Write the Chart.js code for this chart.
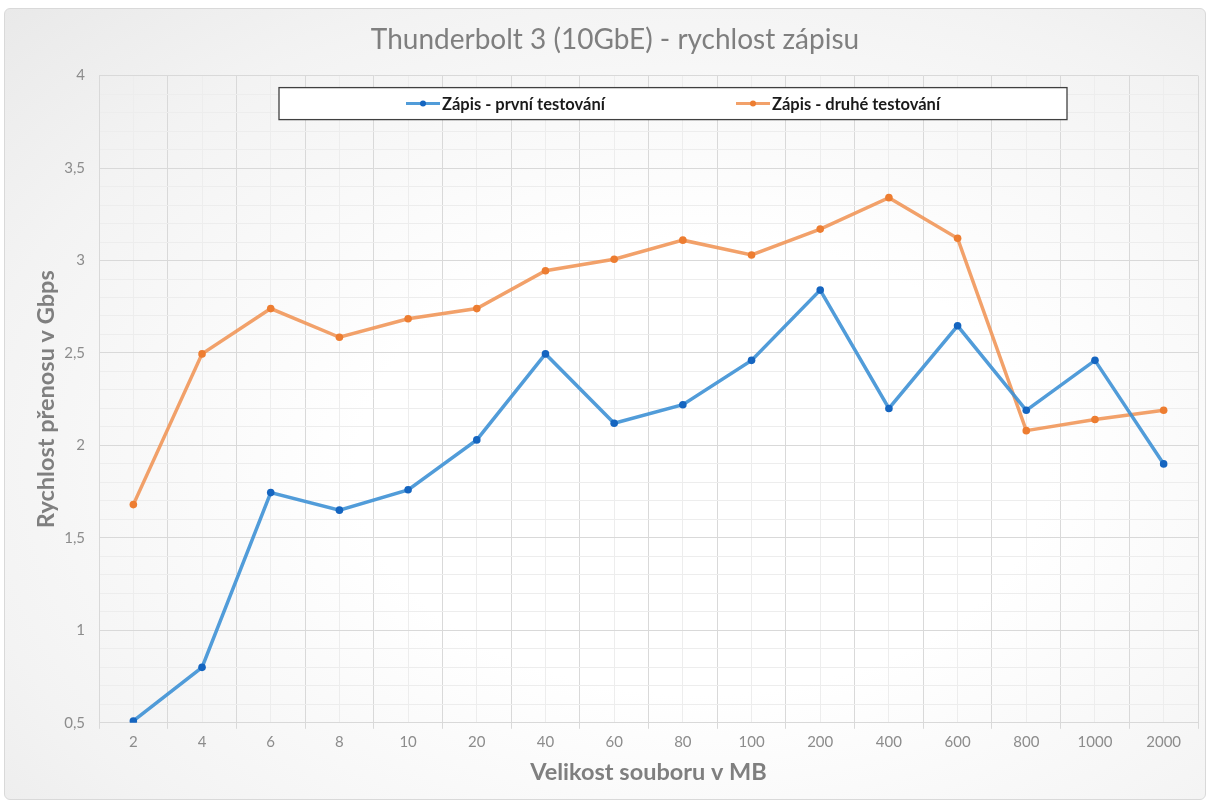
<!DOCTYPE html>
<html lang="cs">
<head>
<meta charset="utf-8">
<title>Thunderbolt 3 (10GbE) - rychlost zápisu</title>
<script src="https://cdn.jsdelivr.net/npm/chart.js@4.4.1/dist/chart.umd.min.js"></script>
<style>
    html, body { margin: 0; padding: 0; background: #ffffff; }
    #wrap { position: relative; width: 1212px; height: 803px; }
    #card {
        position: absolute; left: 4px; top: 8px; width: 1202px; height: 792px;
        border: 1px solid #d9d9d9; border-radius: 6px; box-sizing: border-box;
        background: radial-gradient(ellipse at 58% 58%, #ffffff 35%, #f3f3f3 75%, #e9e9e9 100%);
    }
    canvas { position: absolute; left: 0; top: 0; }
</style>
</head>
<body>
<div id="wrap">
    <div id="card"></div>
    <canvas id="writeChart" width="1212" height="803"></canvas>
</div>
<script>
// velikosti souborů (MB)
const fileSizes = ['2', '4', '6', '8', '10', '20', '40', '60', '80', '100', '200', '400', '600', '800', '1000', '2000'];
// rychlost zápisu v Gbps
const firstRun = [0.51, 0.80, 1.745, 1.65, 1.76, 2.03, 2.495, 2.12, 2.22, 2.46, 2.84, 2.20, 2.647, 2.19, 2.46, 1.90];
const secondRun = [1.68, 2.495, 2.74, 2.585, 2.685, 2.74, 2.945, 3.007, 3.11, 3.03, 3.17, 3.34, 3.12, 2.08, 2.14, 2.19];
const seriesNames = ['Zápis - první testování', 'Zápis - druhé testování'];
const yMin = 0.5, yMax = 4, yStep = 0.5, yMinorStep = 0.1;

const fontFamily = 'Lato, "Open Sans", sans-serif';
const majorGrid = '#d9d9d9';
const minorGrid = '#ededed';

// legenda v rámečku uvnitř plochy grafu (jako v Excelu)
const boxedLegend = {
    id: 'boxedLegend',
    afterDraw(chart) {
        const ctx = chart.ctx;
        const area = chart.chartArea;
        const x = area.left + 180, y = area.top + 12, w = 788, h = 32;
        ctx.save();
        ctx.fillStyle = '#ffffff';
        ctx.fillRect(x, y, w, h);
        ctx.strokeStyle = '#404040';
        ctx.lineWidth = 1.3;
        ctx.strokeRect(x, y, w, h);
        ctx.font = 'bold 16.5px ' + fontFamily;
        ctx.textBaseline = 'middle';
        const itemX = [x + 127, x + 457];
        chart.data.datasets.forEach((ds, i) => {
            const lx = itemX[i], ly = y + h / 2;
            ctx.strokeStyle = ds.borderColor;
            ctx.lineWidth = 3;
            ctx.beginPath();
            ctx.moveTo(lx, ly);
            ctx.lineTo(lx + 34, ly);
            ctx.stroke();
            ctx.fillStyle = ds.pointBackgroundColor;
            ctx.beginPath();
            ctx.arc(lx + 17, ly, 3, 0, Math.PI * 2);
            ctx.fill();
            ctx.fillStyle = '#1a1a1a';
            ctx.fillText(ds.label, lx + 36, ly + 1);
        });
        ctx.restore();
    }
};

const isMajor = v => Math.abs(v / yStep - Math.round(v / yStep)) < 1e-6;

new Chart(document.getElementById('writeChart').getContext('2d'), {
    type: 'line',
    data: {
        labels: fileSizes,
        datasets: [{
            label: seriesNames[0],
            data: firstRun,
            borderColor: 'rgba(62, 145, 213, 0.9)',
            backgroundColor: 'rgba(62, 145, 213, 0.9)',
            pointBackgroundColor: '#1565c0',
            pointBorderWidth: 0,
            borderWidth: 3.5,
            pointRadius: 3.8,
            tension: 0,
            xAxisID: 'x',
            yAxisID: 'y'
        }, {
            label: seriesNames[1],
            data: secondRun,
            borderColor: 'rgba(240, 145, 80, 0.85)',
            backgroundColor: 'rgba(240, 145, 80, 0.85)',
            pointBackgroundColor: '#ed7d31',
            pointBorderWidth: 0,
            borderWidth: 3.5,
            pointRadius: 3.8,
            tension: 0,
            xAxisID: 'x',
            yAxisID: 'y'
        }]
    },
    options: {
        responsive: false,
        animation: false,
        layout: { padding: { left: 32, right: 14, top: 23, bottom: 16 } },
        plugins: {
            legend: { display: false },
            tooltip: { enabled: false },
            title: {
                display: true,
                text: 'Thunderbolt 3 (10GbE) - rychlost zápisu',
                color: '#7f7f7f',
                font: { family: fontFamily, size: 28, weight: 'normal' },
                padding: { top: 0, bottom: 19 }
            }
        },
        scales: {
            x: {
                type: 'category',
                offset: true,
                grid: { offset: true, color: majorGrid, tickLength: 6, drawTicks: true },
                border: { color: majorGrid },
                ticks: { color: '#8c8c8c', font: { family: fontFamily, size: 15 }, padding: 4, maxRotation: 0 },
                title: {
                    display: true,
                    text: 'Velikost souboru v MB',
                    color: '#7f7f7f',
                    font: { family: fontFamily, size: 23.5, weight: 'bold' },
                    padding: { top: 4, bottom: 0 }
                }
            },
            xMinor: {
                type: 'category',
                position: 'bottom',
                offset: true,
                grid: { offset: false, color: minorGrid, drawTicks: false },
                border: { display: false },
                ticks: { display: false }
            },
            y: {
                min: yMin,
                max: yMax,
                grid: { color: majorGrid, drawTicks: false },
                border: { color: majorGrid },
                ticks: {
                    stepSize: yStep,
                    color: '#8c8c8c',
                    font: { family: fontFamily, size: 15 },
                    padding: 14,
                    callback: v => String(v).replace('.', ',')
                },
                title: {
                    display: true,
                    text: 'Rychlost přenosu v Gbps',
                    color: '#7f7f7f',
                    font: { family: fontFamily, size: 23.5, weight: 'bold' },
                    padding: { top: 0, bottom: -10 }
                }
            },
            yMinor: {
                position: 'left',
                min: yMin,
                max: yMax,
                grid: { color: c => isMajor(c.tick.value) ? 'rgba(0,0,0,0)' : minorGrid, drawTicks: false },
                border: { display: false },
                ticks: { display: false, stepSize: yMinorStep }
            }
        }
    },
    plugins: [boxedLegend]
});
</script>
</body>
</html>
